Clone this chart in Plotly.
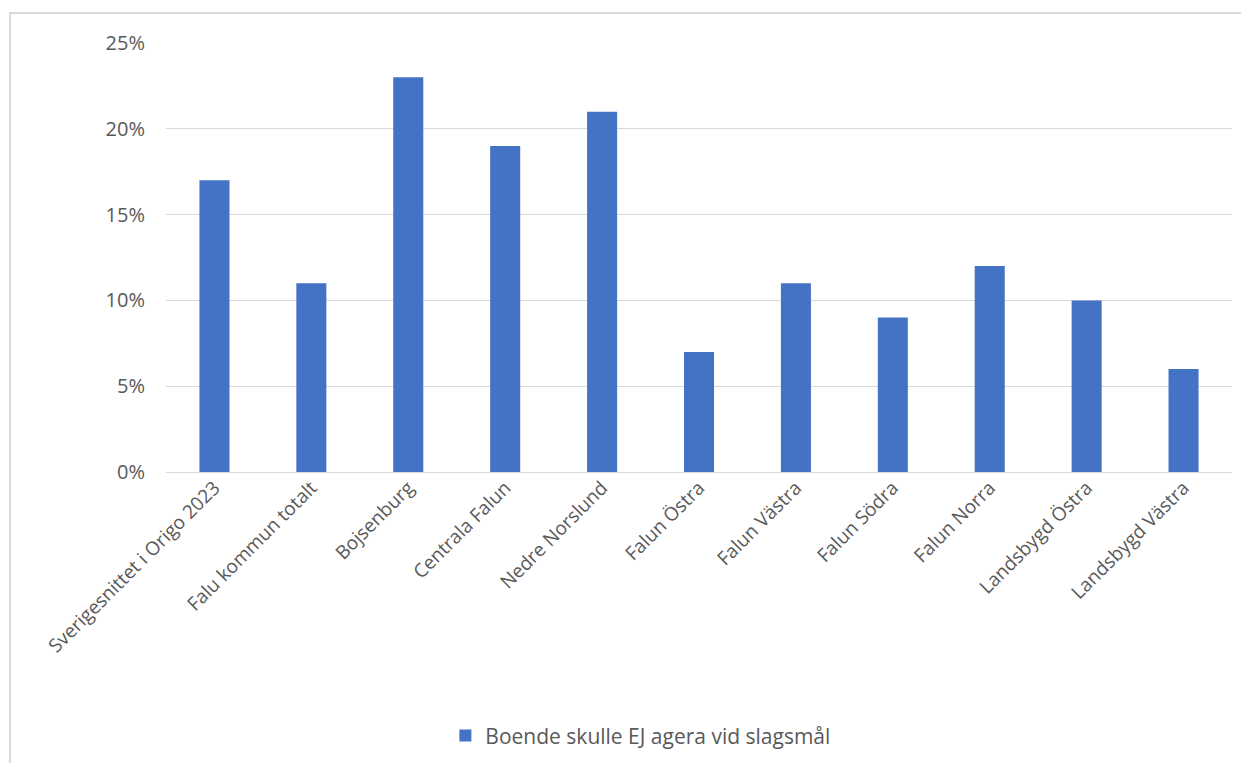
import plotly.graph_objects as go

# data
omraden = ["Sverigesnittet i Origo 2023", "Falu kommun totalt", "Bojsenburg", "Centrala Falun",
           "Nedre Norslund", "Falun Östra", "Falun Västra", "Falun Södra", "Falun Norra",
           "Landsbygd Östra", "Landsbygd Västra"]
ej_agera = [0.17, 0.11, 0.23, 0.19, 0.21, 0.07, 0.11, 0.09, 0.12, 0.10, 0.06]
serie_namn = "Boende skulle EJ agera vid slagsmål"

grey_txt = "#595959"
grid = "#d9d9d9"

fig = go.Figure()
fig.add_trace(go.Bar(x=omraden, y=ej_agera, name=serie_namn,
                     marker=dict(color="#4472c4", line=dict(width=0))))

# outer chart frame (top/left visible, rest runs off the page)
fig.add_shape(type="rect", xref="paper", yref="paper",
              x0=-0.1463, x1=1.1, y0=-1.0, y1=1.0699,
              line=dict(color=grid, width=2), layer="below")

fig.update_layout(
    width=1249, height=763,
    margin=dict(l=158, r=25, t=35, b=299),
    plot_bgcolor="white", paper_bgcolor="white",
    font=dict(family="Open Sans, Liberation Sans, sans-serif", color=grey_txt, size=19),
    bargap=0.69,
    showlegend=True,
    legend=dict(orientation="h", x=0.445, xanchor="center", y=-0.615, yanchor="middle",
                font=dict(size=21, color=grey_txt)),
    xaxis=dict(tickangle=-45, showgrid=False, showline=False, ticks="",
               tickfont=dict(size=19, color=grey_txt)),
    yaxis=dict(range=[0, 0.25], dtick=0.05, tickformat=".0%", gridcolor=grid, gridwidth=1,
               zeroline=True, zerolinecolor=grid, zerolinewidth=1, showline=False,
               ticks="", ticklabelstandoff=20, tickfont=dict(size=20, color=grey_txt)),
)

fig.write_html("out.html")
